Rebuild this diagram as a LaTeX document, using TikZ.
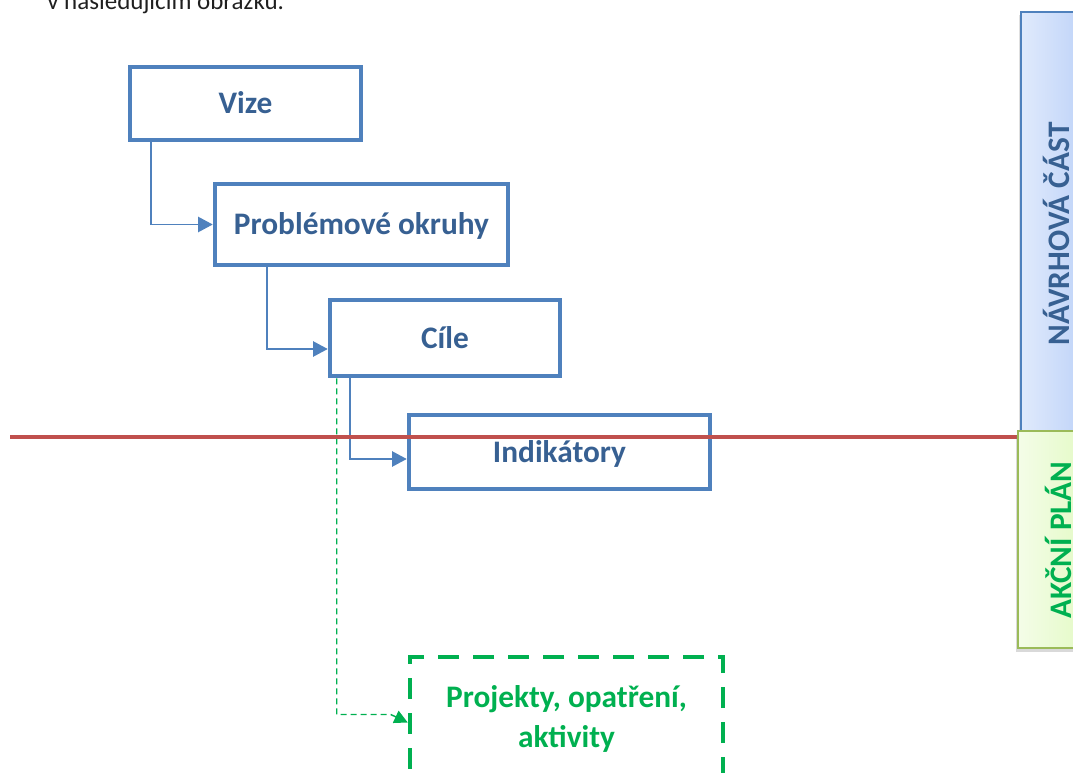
\documentclass[tikz,border=0pt]{standalone}
\usepackage{fontspec}
\setmainfont{Carlito}
\usetikzlibrary{arrows.meta,calc,shadows}
\definecolor{boxblue}{HTML}{4F81BD}
\definecolor{textblue}{HTML}{376092}
\definecolor{pgreen}{HTML}{00B050}
\definecolor{redln}{HTML}{C0504D}
\definecolor{navL}{HTML}{E0EAFC}
\definecolor{navR}{HTML}{B6CDF7}
\definecolor{akL}{HTML}{F4FDE8}
\definecolor{akR}{HTML}{E0F9BE}
\definecolor{akborder}{HTML}{9BBB59}
\def\pxu{0.75pt}
\newcommand\boxfnt{\fontsize{23.5}{30}\selectfont\bfseries}
\newcommand\introfnt{\fontsize{18.75}{22}\selectfont}
\tikzset{
  bbox/.style={draw=boxblue, line width=3.4pt, inner sep=0pt, text=textblue, font=\boxfnt, text height=15pt, text depth=0pt},
  pbox/.style={draw=pgreen, line width=3.4pt, dash pattern=on 15.75pt off 10.5pt, inner sep=0pt, text=pgreen, font=\boxfnt, align=center},
  conn/.style={draw=boxblue, line width=1.2pt, -{Triangle[length=11pt,width=11.5pt]}},
  gconn/.style={draw=pgreen, line width=1.1pt, dash pattern=on 4.5pt off 3pt, -{Triangle[length=10pt,width=10pt]}},
  redline/.style={draw=redln, line width=2.4pt},
  navbar/.style={draw=boxblue, line width=1.6pt, left color=navL, right color=navR, inner sep=0pt,
    drop shadow={shadow xshift=-1.5pt, shadow yshift=-2pt, opacity=0.25}},
  akbar/.style={draw=akborder, line width=2pt, left color=akL, right color=akR, inner sep=0pt,
    drop shadow={shadow xshift=-1.5pt, shadow yshift=-3pt, opacity=0.3}},
  barlabel/.style={rotate=90, anchor=base, font=\boxfnt, inner sep=0pt}
}
\begin{document}
\begin{tikzpicture}[x=0.75pt,y=-0.75pt]
\useasboundingbox (0,0) rectangle (1073,773);
% intro text (cut at the top, as in the reference)
\node[anchor=base west, font=\introfnt, text=black!88, inner sep=0pt] (intro) at (47,9.5) {v následujícím obrázku.};
% boxes
\node[bbox, minimum width=231*\pxu, minimum height=73*\pxu] (vize) at (245.5,103.5) {Vize};
\node[bbox, minimum width=293*\pxu, minimum height=81*\pxu] (probl) at (361.5,224.5) {Problémové okruhy};
\node[bbox, minimum width=230*\pxu, minimum height=76*\pxu] (cile) at (445,338) {Cíle};
\node[bbox, minimum width=301*\pxu, minimum height=74*\pxu] (indik) at (559.5,452) {Indikátory};
\node[pbox, minimum width=313*\pxu, minimum height=123*\pxu] (proj) at (566.5,718.5) {Projekty, opatření,\\aktivity};
% connectors
\draw[conn] ($(vize.south west)+(23,0)$) |- (probl.west);
\draw[conn] ($(probl.south west)+(54,0)$) |- ($(cile.west)+(0,11)$);
\draw[conn] ($(cile.south west)+(22,0)$) |- ($(indik.west)+(0,7)$);
\draw[gconn] ($(cile.south west)+(9,0)$) |- ($(proj.west)+(-17,-4)$) -- ($(proj.west)+(0,4)$);
% red dividing line
\coordinate (redstart) at (10,437);
\coordinate (redend) at (1030,437);
\draw[redline] (redstart) -- (redend);
% right bars
\node[navbar, minimum width=79*\pxu, minimum height=444*\pxu] (navbox) at (1060.5,234) {};
\node[barlabel, text=textblue] (navlabel) at (1069,234) {NÁVRHOVÁ ČÁST};
\node[akbar, minimum width=82*\pxu, minimum height=217*\pxu] (akbox) at (1059,539.5) {};
\node[barlabel, text=pgreen] (aklabel) at (1071,540) {AKČNÍ PLÁN};
\end{tikzpicture}
\end{document}
